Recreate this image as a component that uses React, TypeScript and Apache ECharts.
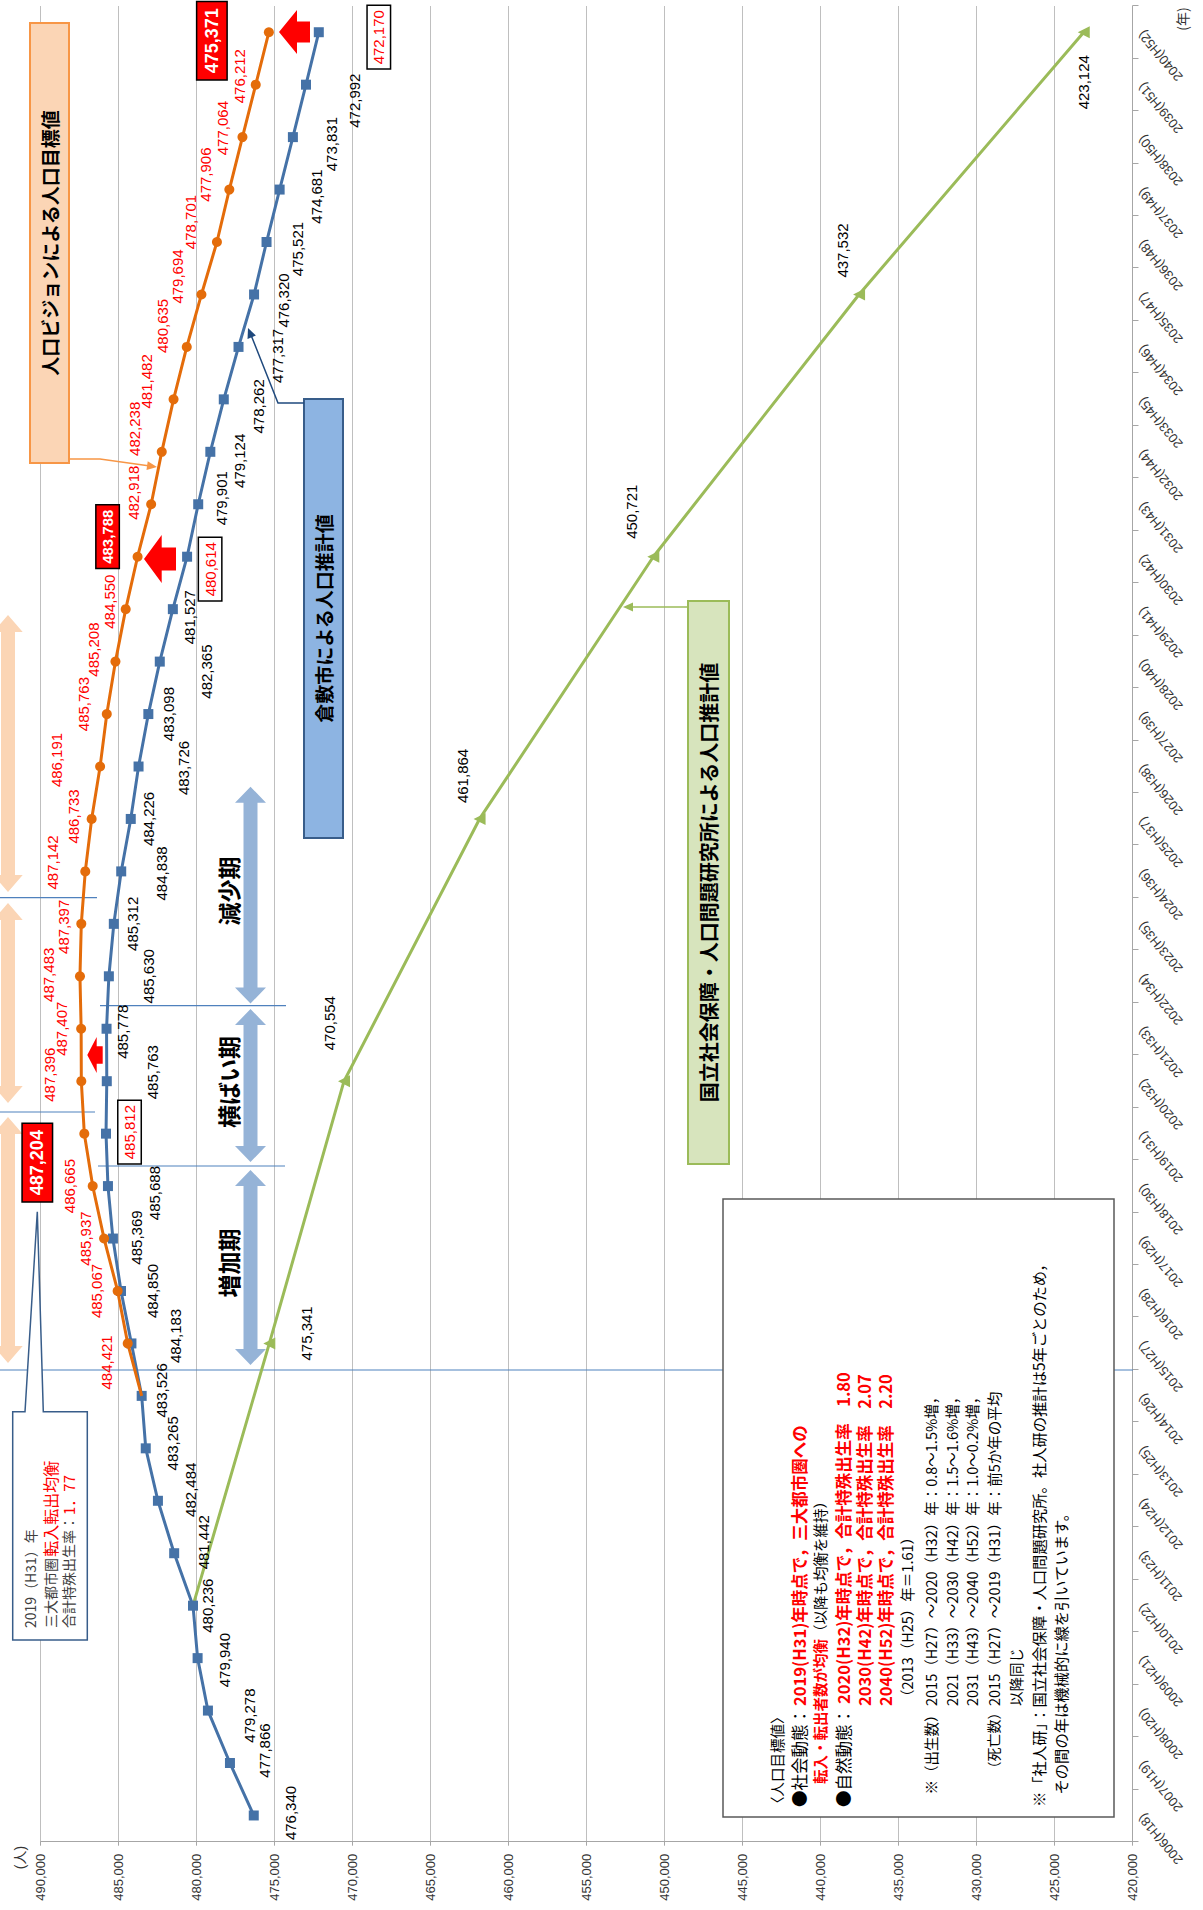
import React, { useEffect, useRef } from "react";
import * as echarts from "echarts";

// ---------------- data ----------------
const years = [
  "2006(H18)", "2007(H19)", "2008(H20)", "2009(H21)", "2010(H22)", "2011(H23)", "2012(H24)",
  "2013(H25)", "2014(H26)", "2015(H27)", "2016(H28)", "2017(H29)", "2018(H30)", "2019(H31)",
  "2020(H32)", "2021(H33)", "2022(H34)", "2023(H35)", "2024(H36)", "2025(H37)", "2026(H38)",
  "2027(H39)", "2028(H40)", "2029(H41)", "2030(H42)", "2031(H43)", "2032(H44)", "2033(H45)",
  "2034(H46)", "2035(H47)", "2036(H48)", "2037(H49)", "2038(H50)", "2039(H51)", "2040(H52)",
];
const firstYear = 2006;

// 倉敷市による人口推計値 (2006-2040)
const cityEstimate = [
  476340, 477866, 479278, 479940, 480236, 481442, 482484, 483265, 483526, 484183,
  484850, 485369, 485688, 485812, 485763, 485778, 485630, 485312, 484838, 484226,
  483726, 483098, 482365, 481527, 480614, 479901, 479124, 478262, 477317, 476320,
  475521, 474681, 473831, 472992, 472170,
];

// 人口ビジョンによる人口目標値 (2014-2040, 2014 = starting point)
const visionStartYear = 2014;
const visionTarget = [
  483526, 484421, 485067, 485937, 486665, 487204, 487396, 487407, 487483, 487397,
  487142, 486733, 486191, 485763, 485208, 484550, 483788, 482918, 482238, 481482,
  480635, 479694, 478701, 477906, 477064, 476212, 475371,
];

// 国立社会保障・人口問題研究所による人口推計値
const ipssYears = [2010, 2015, 2020, 2025, 2030, 2035, 2040];
const ipssValues = [480236, 475341, 470554, 461864, 450721, 437532, 423124];

const axisMin = 420000;
const axisMax = 490000;
const axisStep = 5000;

const cityBoxedYears = [2019, 2030, 2040];
const visionBoxedYears = [2019, 2030, 2040];

// ---------------- label layout (offsets from the point, px) ----------------
const cityLabelOffsets = [
  [2.5, 37], [12.5, 35], [-5, 41.6], [-2, 27], [0, 15], [11, 29], [11, 33], [5, 27], [5.5, 20], [7.5, 44],
  [0, 31], [1, 24], [-7, 47], [1.5, 23.5], [9, 46], [-3, 16], [0, 40], [0, 19], [-2, 40], [0, 17.5],
  [-1.5, 45], [0, 20], [-10, 47], [-8, 17], [-12.5, 23], [6, 23], [-9, 29], [-7, 35], [-9, 39], [-6, 29],
  [-7, 31], [-7, 37], [-7, 39], [-16, 49], [-5, 60],
];
const visionLabelOffsets = [
  [0, 0], [-19, -21], [0, -21], [0, -19], [0, -23], [-29, -47], [6.5, -32], [0, -20], [1.5, -31], [-3, -18],
  [9, -33], [2.5, -18], [6.5, -44], [10, -23], [12, -22], [7.5, -16], [20, -30], [11.5, -18], [23, -27], [18, -27],
  [21, -24], [18, -24], [20, -26], [15, -24], [9, -20], [8.5, -16], [-8.5, -57],
];
const ipssLabelOffsets = [[0, 0], [10, 37], [58, -15], [43, -17], [45, -22], [44, -17], [-50, 0]];

// ---------------- helpers ----------------
const W = 1910; // chart drawn landscape, then rotated -90deg onto the 1203x1910 page
const H = 1203;
const NUMFONT = "'Liberation Sans', 'Noto Sans CJK JP', sans-serif";
const JFONT = "'Noto Sans CJK JP', 'Noto Sans', sans-serif";
const BLUE = "#4572A7";
const ORANGE = "#E46C0A";
const GREEN = "#9BBB59";
const RED = "#FF0000";

const fmt = (v: number) => String(v).replace(/\B(?=(\d{3})+(?!\d))/g, ",");
// page coords (as seen in the rotated picture) -> chart coords
const P = (px: number, py: number): number[] => [W - py, px];
const pts = (arr: number[][]) => arr.map(([a, b]) => P(a, b));
const rectPage = (x1: number, y1: number, x2: number, y2: number) => ({
  x: W - y2, y: x1, width: y2 - y1, height: x2 - x1,
});

const T = (x: number, y: number, text: string, o: any = {}) => ({
  type: "text",
  x, y, z: o.z ?? 30,
  style: {
    text,
    fill: o.color ?? "#000",
    fontSize: o.size ?? 15,
    fontWeight: o.bold ? "bold" : "normal",
    fontFamily: o.font ?? JFONT,
    textAlign: o.align ?? "left",
    textVerticalAlign: "middle",
    align: o.align ?? "left",
    verticalAlign: "middle",
  },
});

function dblArrow(xc: number, y1: number, y2: number, sh: number, hh: number, hl: number) {
  return pts([
    [xc, y1], [xc + hh, y1 + hl], [xc + sh, y1 + hl], [xc + sh, y2 - hl], [xc + hh, y2 - hl],
    [xc, y2], [xc - hh, y2 - hl], [xc - sh, y2 - hl], [xc - sh, y1 + hl], [xc - hh, y1 + hl],
  ]);
}
function leftArrow(tx: number, ty: number, hbx: number, hh: number, sh: number, ex: number) {
  return pts([
    [tx, ty], [hbx, ty - hh], [hbx, ty - sh], [ex, ty - sh], [ex, ty + sh], [hbx, ty + sh], [hbx, ty + hh],
  ]);
}
function head(fx: number, fy: number, tx: number, ty: number, len = 10, half = 4.5) {
  const dx = tx - fx, dy = ty - fy;
  const L = Math.hypot(dx, dy);
  const ux = dx / L, uy = dy / L;
  const bx = tx - ux * len, by = ty - uy * len;
  return pts([[tx, ty], [bx - uy * half, by + ux * half], [bx + uy * half, by - ux * half]]);
}

const redBoxBig = {
  backgroundColor: RED, borderColor: "#000", borderWidth: 1.5, color: "#fff",
  fontWeight: "bold", fontSize: 18, padding: [6, 6, 5, 6],
};
const redBoxSmall = {
  backgroundColor: RED, borderColor: "#000", borderWidth: 1.5, color: "#fff",
  fontWeight: "bold", fontSize: 15, padding: [4, 4, 3, 4],
};
const whiteBox = {
  backgroundColor: "#fff", borderColor: "#000", borderWidth: 1.5, color: RED,
  fontSize: 15, padding: [4, 4, 3, 4],
};

function buildOption() {
  const n = years.length;

  const cityData = cityEstimate.map((v, i) => {
    const y = firstYear + i;
    const boxed = cityBoxedYears.includes(y);
    return { value: v, label: { offset: cityLabelOffsets[i], ...(boxed ? whiteBox : {}) } };
  });

  const visionData: any[] = new Array(n).fill(null);
  visionTarget.forEach((v, k) => {
    const y = visionStartYear + k;
    const idx = y - firstYear;
    if (k === 0) {
      visionData[idx] = { value: v, symbol: "none", label: { show: false } };
    } else {
      const boxed = visionBoxedYears.includes(y);
      const style = boxed ? (y === 2030 ? redBoxSmall : redBoxBig) : {};
      visionData[idx] = { value: v, label: { offset: visionLabelOffsets[k], ...style } };
    }
  });

  const ipssData: any[] = new Array(n).fill(null);
  ipssYears.forEach((y, k) => {
    const idx = y - firstYear;
    if (k === 0) ipssData[idx] = { value: ipssValues[k], symbol: "none", label: { show: false } };
    else ipssData[idx] = { value: ipssValues[k], label: { offset: ipssLabelOffsets[k] } };
  });

  const labelFormatter = (p: any) => {
    const v = typeof p.value === "number" ? p.value : Number(p.value);
    return isNaN(v) ? "" : fmt(v);
  };

  const graphics: any[] = [];

  // peach double arrows at the left edge
  const peach = "#FBD5B5";
  [[615, 892], [903, 1103], [1117, 1363]].forEach(([a, b]) => {
    graphics.push({ type: "polygon", z: 1, shape: { points: dblArrow(8, a, b, 7, 14.7, 17) }, style: { fill: peach } });
  });

  // blue double arrows
  const arrowBlue = "#95B3D7";
  [[786.7, 1003.5], [1009, 1162], [1170, 1365]].forEach(([a, b]) => {
    graphics.push({ type: "polygon", z: 1, shape: { points: dblArrow(250.5, a, b, 7, 15.5, 16) }, style: { fill: arrowBlue } });
  });

  // divider lines (page-horizontal)
  const divider = (py: number, x1: number, x2: number) => {
    const [X1, Y1] = P(x1, py);
    const [X2, Y2] = P(x2, py);
    graphics.push({ type: "line", z: 1, shape: { x1: X1, y1: Y1, x2: X2, y2: Y2 }, style: { stroke: "#4F81BD", lineWidth: 1.2 } });
  };
  divider(1370, 0, 1133);
  divider(1166, 98, 285);
  divider(1005.7, 100, 286);
  divider(1112, 0, 95);
  divider(897.7, 0, 97);

  // period labels
  graphics.push(T(W - 891, 227.5, "減少期", { size: 23, bold: true, align: "center" }));
  graphics.push(T(W - 1082, 228, "横ばい期", { size: 23, bold: true, align: "center" }));
  graphics.push(T(W - 1263, 228, "増加期", { size: 23, bold: true, align: "center" }));

  // red arrows
  graphics.push({ type: "polygon", z: 10, shape: { points: leftArrow(279, 32, 297, 22, 10.5, 310) }, style: { fill: RED } });
  graphics.push({ type: "polygon", z: 10, shape: { points: leftArrow(144, 559, 161.7, 24, 11.5, 176) }, style: { fill: RED } });
  graphics.push({ type: "polygon", z: 10, shape: { points: leftArrow(87.3, 1055, 96.7, 18, 8.7, 102.7) }, style: { fill: RED } });

  // 人口ビジョン callout
  graphics.push({ type: "rect", z: 10, shape: rectPage(30, 23, 69, 463), style: { fill: "#FBD5B5", stroke: "#F79646", lineWidth: 2 } });
  graphics.push(T(W - 243, 49.5, "人口ビジョンによる人口目標値", { size: 19, bold: true, align: "center", z: 11 }));
  graphics.push({ type: "polyline", z: 10, shape: { points: pts([[69, 459], [100, 459], [150, 466]]) }, style: { stroke: "#F79646", lineWidth: 1.5, fill: null } });
  graphics.push({ type: "polygon", z: 10, shape: { points: head(100, 459, 157, 467) }, style: { fill: "#F79646" } });

  // 倉敷市 callout
  graphics.push({ type: "rect", z: 10, shape: rectPage(304, 399, 343, 838), style: { fill: "#8DB4E2", stroke: "#385D8A", lineWidth: 2 } });
  graphics.push(T(W - 618.5, 323.5, "倉敷市による人口推計値", { size: 19, bold: true, align: "center", z: 11 }));
  graphics.push({ type: "polyline", z: 10, shape: { points: pts([[304, 403], [278, 403], [251, 335]]) }, style: { stroke: "#1F497D", lineWidth: 1.5, fill: null } });
  graphics.push({ type: "polygon", z: 10, shape: { points: head(278, 403, 248, 328) }, style: { fill: "#1F497D" } });

  // 社人研 callout
  graphics.push({ type: "rect", z: 10, shape: rectPage(688, 601, 729, 1164), style: { fill: "#D7E4BD", stroke: GREEN, lineWidth: 2 } });
  graphics.push(T(W - 882.5, 708.5, "国立社会保障・人口問題研究所による人口推計値", { size: 20, bold: true, align: "center", z: 11 }));
  graphics.push({ type: "line", z: 10, shape: (() => { const [a, b] = P(688, 607); const [c, d] = P(630, 607); return { x1: a, y1: b, x2: c, y2: d }; })(), style: { stroke: GREEN, lineWidth: 1.5 } });
  graphics.push({ type: "polygon", z: 10, shape: { points: head(688, 607, 623, 607) }, style: { fill: GREEN } });

  // 2019 callout with pointer
  graphics.push({
    type: "polygon", z: 10,
    shape: { points: pts([[12.7, 1411.7], [25, 1411.7], [37.3, 1211.7], [43.3, 1411.7], [87.3, 1411.7], [87.3, 1640], [12.7, 1640]]) },
    style: { fill: "#fff", stroke: "#385D8A", lineWidth: 1.5 },
  });
  graphics.push(T(282, 30, "2019（H31）年", { size: 14, color: "#404040", z: 11 }));
  graphics.push(T(282, 50, "三大都市圏：", { size: 14, color: "#404040", z: 11 }));
  graphics.push(T(353.3, 50, "転入転出均衡", { size: 16, color: RED, z: 11 }));
  graphics.push(T(282, 68, "合計特殊出生率：", { size: 14, color: "#404040", z: 11 }));
  graphics.push(T(395, 68, "1．77", { size: 15, color: RED, z: 11 }));

  // note box
  graphics.push({ type: "rect", z: 10, shape: { x: 93, y: 723, width: 618, height: 391 }, style: { fill: "#fff", stroke: "#595959", lineWidth: 1.5 } });
  const k = { size: 14.5, color: "#000", z: 11 };
  const kb = { size: 16.5, color: "#000", z: 11 };
  const r = { size: 16.5, color: RED, bold: true, z: 11 };
  const rs = { size: 14.5, color: RED, bold: true, z: 11 };
  const note: any[] = [
    [99, 776.7, "〈人口目標値〉", k],
    [103, 799.3, "●社会動態：", kb],
    [204, 799.3, "2019(H31)年時点で，三大都市圏への", r],
    [126, 819.3, "転入・転出者数が均衡", rs],
    [271, 819.3, "（以降も均衡を維持）", k],
    [103, 843.3, "●自然動態：", kb],
    [206, 843.3, "2020(H32)年時点で，合計特殊出生率　1.80", r],
    [204, 864.3, "2030(H42)年時点で，合計特殊出生率　2.07", r],
    [204, 885, "2040(H52)年時点で，合計特殊出生率　2.20", r],
    [206, 906.7, "（2013（H25）年＝1.61）", k],
    [115.5, 930, "※（出生数）", k],
    [204, 930, "2015（H27）～2020（H32）年：0.8～1.5%増，", k],
    [204, 951.7, "2021（H33）～2030（H42）年：1.5～1.6%増，", k],
    [204, 971.7, "2031（H43）～2040（H52）年：1.0～0.2%増，", k],
    [134.5, 993.3, "（死亡数）", { size: 14, color: "#000", z: 11 }],
    [204, 993.3, "2015（H27）～2019（H31）年：前5か年の平均", k],
    [204, 1015, "以降同じ", k],
    [103, 1038.3, "※「社人研」：国立社会保障・人口問題研究所。社人研の推計は5年ごとのため，", { size: 15.3, color: "#000", z: 11 }],
    [115.5, 1060, "その間の年は機械的に線を引いています。", { size: 15.3, color: "#000", z: 11 }],
  ];
  note.forEach(([x, y, t, o]) => graphics.push(T(x, y, t, o)));

  // axis unit names
  graphics.push(T(52.5, 20, "(人)", { size: 14, color: "#333", align: "center", font: NUMFONT }));
  graphics.push(T(1891, 1181.5, "(年)", { size: 14, color: "#333", align: "center" }));

  const gridLeft = 68.3;
  const gridTop = 40.7;

  return {
    animation: false,
    backgroundColor: "#fff",
    grid: {
      left: gridLeft, right: 6, top: gridTop, bottom: 70.5,
      containLabel: false, outerBoundsMode: "none",
    },
    xAxis: {
      type: "category",
      data: years,
      boundaryGap: true,
      axisLine: { show: true, lineStyle: { color: "#A6A6A6", width: 1 } },
      axisTick: { show: true, length: 6, interval: 0, lineStyle: { color: "#A6A6A6" } },
      axisLabel: { interval: 0, rotate: 40, fontSize: 13, color: "#333", margin: 8, fontFamily: NUMFONT },
      splitLine: { show: false },
    },
    yAxis: {
      type: "value",
      min: axisMin, max: axisMax, interval: axisStep,
      axisLine: { show: true, lineStyle: { color: "#A6A6A6", width: 1 } },
      axisTick: { show: true, length: 4, lineStyle: { color: "#A6A6A6" } },
      axisLabel: { formatter: (v: number) => fmt(v), fontSize: 13, color: "#333", margin: 12, fontFamily: NUMFONT },
      splitLine: { show: true, lineStyle: { color: "#BFBFBF", width: 1 } },
    },
    series: [
      {
        type: "line", name: "国立社会保障・人口問題研究所による人口推計値",
        data: ipssData, connectNulls: true, symbol: "triangle", symbolSize: 12, showAllSymbol: true,
        lineStyle: { color: GREEN, width: 3 }, itemStyle: { color: GREEN },
        label: { show: true, position: "inside", color: "#000", fontSize: 15, fontFamily: NUMFONT, formatter: labelFormatter },
        z: 3,
      },
      {
        type: "line", name: "倉敷市による人口推計値",
        data: cityData, symbol: "rect", symbolSize: 10, showAllSymbol: true,
        lineStyle: { color: BLUE, width: 3 }, itemStyle: { color: BLUE },
        label: { show: true, position: "inside", color: "#000", fontSize: 15, fontFamily: NUMFONT, formatter: labelFormatter },
        z: 4,
      },
      {
        type: "line", name: "人口ビジョンによる人口目標値",
        data: visionData, symbol: "circle", symbolSize: 10, showAllSymbol: true,
        lineStyle: { color: ORANGE, width: 3 }, itemStyle: { color: ORANGE },
        label: { show: true, position: "inside", color: RED, fontSize: 15, fontFamily: NUMFONT, formatter: labelFormatter },
        z: 5,
      },
    ],
    graphic: { elements: graphics },
  };
}

export default function App() {
  const ref = useRef<HTMLDivElement>(null);
  useEffect(() => {
    if (!ref.current) return;
    const chart = echarts.init(ref.current, undefined, { renderer: "svg", width: W, height: H });
    chart.setOption(buildOption() as any);
    return () => chart.dispose();
  }, []);
  return (
    <div style={{ position: "absolute", left: 0, top: 0, width: 1203, height: 1910, overflow: "hidden", background: "#fff" }}>
      <div
        ref={ref}
        style={{
          width: W, height: H,
          transform: `translateY(${W}px) rotate(-90deg)`,
          transformOrigin: "0 0",
        }}
      />
    </div>
  );
}
